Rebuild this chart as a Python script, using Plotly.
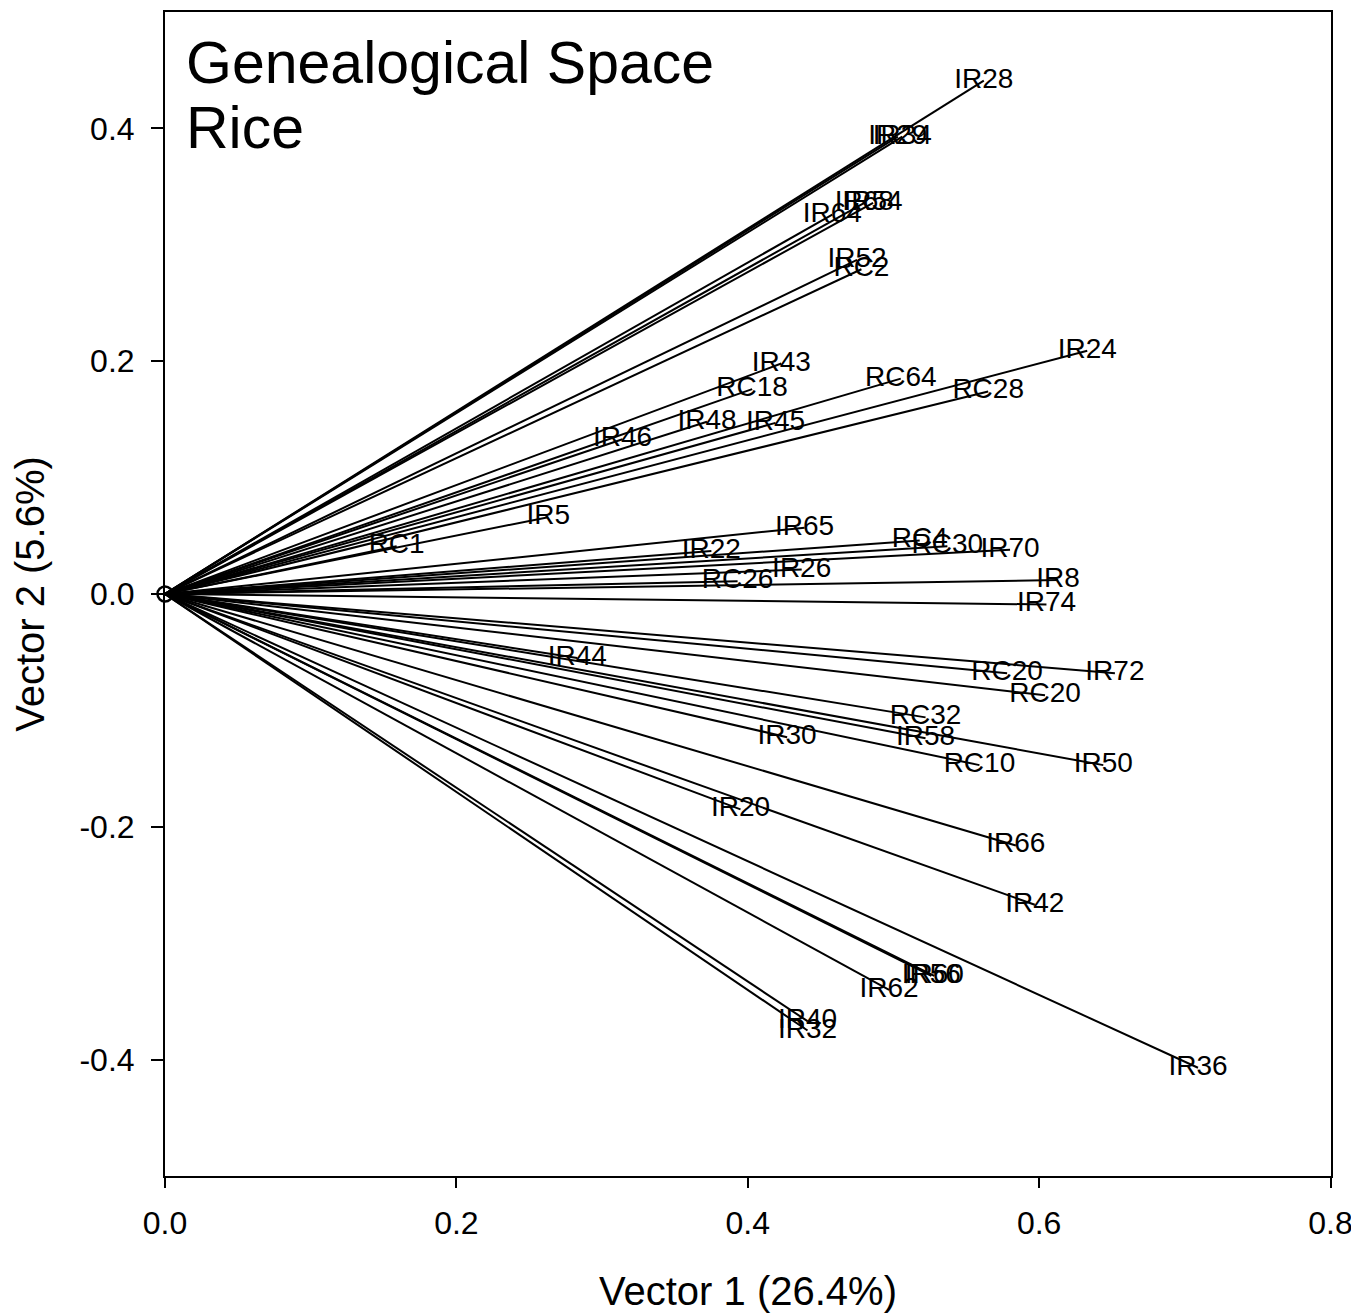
import plotly.graph_objects as go

# Data: endpoint coordinates of each genealogical vector
labels = ["IR28", "IR29", "IR34", "IR64", "IR68", "IR54", "IR52", "RC2", "IR43", "RC18",
          "IR46", "IR48", "IR45", "RC64", "RC28", "IR24", "IR5", "RC1", "IR65", "IR22",
          "RC4", "RC30", "IR70", "IR26", "RC26", "IR8", "IR74", "IR44", "RC20", "IR72",
          "RC20", "RC32", "IR58", "IR30", "RC10", "IR50", "IR20", "IR66", "IR42", "IR56",
          "IR60", "IR62", "IR40", "IR32", "IR36"]
vec1 = [0.562, 0.503, 0.506, 0.458, 0.480, 0.486, 0.475, 0.478, 0.423, 0.403,
        0.314, 0.372, 0.419, 0.505, 0.565, 0.633, 0.263, 0.159, 0.439, 0.375,
        0.518, 0.537, 0.580, 0.437, 0.393, 0.613, 0.605, 0.283, 0.578, 0.652,
        0.604, 0.522, 0.522, 0.427, 0.559, 0.644, 0.395, 0.584, 0.597, 0.526,
        0.528, 0.497, 0.441, 0.441, 0.709]
vec2 = [0.441, 0.393, 0.393, 0.326, 0.336, 0.336, 0.287, 0.279, 0.198, 0.176,
        0.133, 0.148, 0.147, 0.185, 0.174, 0.209, 0.066, 0.041, 0.057, 0.037,
        0.046, 0.041, 0.038, 0.021, 0.011, 0.012, -0.009, -0.055, -0.068, -0.068,
        -0.087, -0.106, -0.124, -0.123, -0.147, -0.147, -0.185, -0.216, -0.267, -0.328,
        -0.328, -0.340, -0.367, -0.375, -0.407]

x_ticks = [0.0, 0.2, 0.4, 0.6, 0.8]
x_ticktext = ["0.0", "0.2", "0.4", "0.6", "0.8"]
y_ticks = [-0.4, -0.2, 0.0, 0.2, 0.4]
y_ticktext = ["-0.4", "-0.2", "0.0", "0.2", "0.4"]

FONT = "Liberation Sans, Arial, sans-serif"

# Build line segments from origin to each endpoint
lx, ly = [], []
for a, b in zip(vec1, vec2):
    lx += [0, a, None]
    ly += [0, b, None]

fig = go.Figure()
fig.add_trace(go.Scatter(x=lx, y=ly, mode="lines",
                         line=dict(color="black", width=2),
                         hoverinfo="skip", showlegend=False))
fig.add_trace(go.Scatter(x=vec1, y=vec2, mode="text", text=labels,
                         textposition="middle center",
                         textfont=dict(family=FONT, size=28, color="black"),
                         showlegend=False))
fig.add_trace(go.Scatter(x=[0], y=[0], mode="markers",
                         marker=dict(symbol="circle-open", size=15,
                                     color="black", line=dict(width=2.5, color="black")),
                         cliponaxis=False, showlegend=False))

fig.add_annotation(text="Genealogical Space", xref="paper", yref="paper",
                   x=0.0165, y=0.956, xanchor="left", yanchor="middle",
                   showarrow=False, font=dict(family=FONT, size=59, color="black"))
fig.add_annotation(text="Rice", xref="paper", yref="paper",
                   x=0.0165, y=0.900, xanchor="left", yanchor="middle",
                   showarrow=False, font=dict(family=FONT, size=59, color="black"))

fig.update_layout(
    width=1351, height=1305,
    margin=dict(l=157, r=28, t=2, b=130),
    plot_bgcolor="white", paper_bgcolor="white",
    font=dict(family=FONT, color="black"),
)
fig.update_xaxes(range=[0, 0.8003], tickvals=x_ticks, ticktext=x_ticktext,
                 showgrid=False, zeroline=False,
                 showline=True, linecolor="black", linewidth=2, mirror=True,
                 ticks="outside", ticklen=10, tickwidth=2, tickcolor="black",
                 ticklabelstandoff=8,
                 tickfont=dict(family=FONT, size=32, color="black"),
                 title=dict(text="Vector 1 (26.4%)", standoff=42,
                            font=dict(family=FONT, size=40, color="black")))
fig.update_yaxes(range=[-0.5, 0.5], tickvals=y_ticks, ticktext=y_ticktext,
                 showgrid=False, zeroline=False,
                 showline=True, linecolor="black", linewidth=2, mirror=True,
                 ticks="outside", ticklen=12, tickwidth=2, tickcolor="black",
                 ticklabelstandoff=10,
                 tickfont=dict(family=FONT, size=32, color="black"),
                 title=dict(text="Vector 2 (5.6%)", standoff=30,
                            font=dict(family=FONT, size=40, color="black")))

fig.write_html("out.html")
